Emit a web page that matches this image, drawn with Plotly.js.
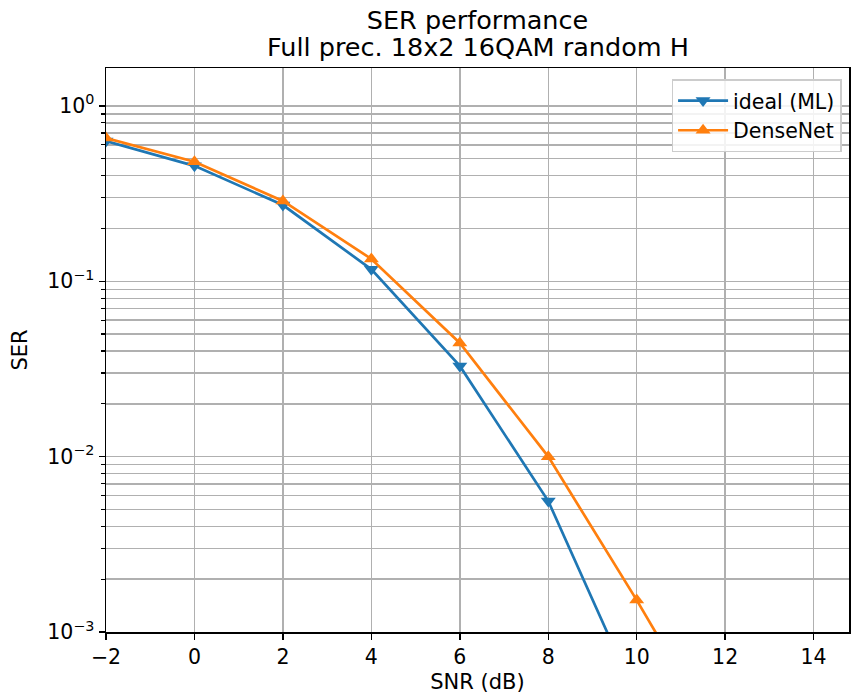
<!DOCTYPE html>
<html>
<head>
<meta charset="utf-8">
<script src="https://cdn.plot.ly/plotly-3.0.1.min.js"></script>
<style>html,body{margin:0;padding:0;background:#fff;}#chart{width:851px;height:695px;}</style>
</head>
<body>
<div id="chart"></div>
<script>
const snr = [-2, 0, 2, 4, 6, 8, 10, 12, 14];
const serIdeal = [0.63, 0.455, 0.272, 0.117, 0.0329, 0.00558, 0.00042, 0.00002, 0.0000005];
const serDense = [0.656, 0.48, 0.287, 0.134, 0.0445, 0.0100, 0.00152, 0.00021, 0.00002];
const xTicks = [-2, 0, 2, 4, 6, 8, 10, 12, 14];
const xTickText = ['\u22122', '0', '2', '4', '6', '8', '10', '12', '14'];
const yTicks = [0.001, 0.01, 0.1, 1];
const yTickText = ['10<sup>\u22123</sup>', '10<sup>\u22122</sup>', '10<sup>\u22121</sup>', '10<sup>0</sup>'];
const titleLine1 = 'SER performance';
const titleLine2 = 'Full prec. 18x2 16QAM random H';

const minorVals = [];
for (let e = -3; e <= 0; e++) for (let m = 2; m <= 9; m++) minorVals.push(m * Math.pow(10, e));

const font = 'DejaVu Sans, sans-serif';
const traces = [
  {x: snr, y: serIdeal, name: 'ideal (ML)', mode: 'lines+markers', type: 'scatter',
   line: {color: '#1f77b4', width: 2.7}, marker: {symbol: 'triangle-down', size: 13, color: '#1f77b4'}, cliponaxis: true},
  {x: snr, y: serDense, name: 'DenseNet', mode: 'lines+markers', type: 'scatter',
   line: {color: '#ff7f0e', width: 2.7}, marker: {symbol: 'triangle-up', size: 13, color: '#ff7f0e'}, cliponaxis: true}
];
const layout = {
  width: 851, height: 695,
  margin: {l: 106, r: 2, t: 68, b: 63},
  paper_bgcolor: '#fff', plot_bgcolor: '#fff',
  font: {family: font, size: 20.5, color: '#000'},
  title: {text: titleLine1, x: 0.5, xref: 'paper', xanchor: 'center',
          y: 1 - 20 / 695, yref: 'container', yanchor: 'middle', font: {family: font, size: 25.5, color: '#000'}},
  annotations: [{text: titleLine2, xref: 'paper', yref: 'paper', x: 0.5, y: 1, xanchor: 'center', yanchor: 'middle',
                 yshift: 21, showarrow: false, font: {family: font, size: 25.5, color: '#000'}}],
  xaxis: {range: [-2, 14.8], tickvals: xTicks, ticktext: xTickText, showgrid: true, gridcolor: '#b0b0b0', gridwidth: 1.5,
          ticks: 'outside', ticklen: 6, tickwidth: 1.5, tickcolor: '#000', showline: true, linecolor: '#000', linewidth: 1.5,
          mirror: true, zeroline: false, title: {text: 'SNR (dB)', font: {family: font, size: 21}, standoff: 6}},
  yaxis: {type: 'log', range: [-3, 0.216], tickvals: yTicks, ticktext: yTickText, showgrid: true, gridcolor: '#b0b0b0', gridwidth: 1.5,
          ticks: 'outside', ticklen: 6, tickwidth: 1.5, tickcolor: '#000', showline: true, linecolor: '#000', linewidth: 1.5,
          mirror: true, zeroline: false,
          minor: {tickmode: 'array', tickvals: minorVals, showgrid: true, gridcolor: '#b0b0b0', gridwidth: 1.5, ticks: 'outside', ticklen: 3.5, tickcolor: '#000', tickwidth: 1.2},
          title: {text: 'SER', font: {family: font, size: 21}, standoff: 14}},
  legend: {x: 0.99, xanchor: 'right', y: 0.98, yanchor: 'top', bgcolor: 'rgba(255,255,255,0.85)', bordercolor: '#cccccc', borderwidth: 1.5,
           font: {family: font, size: 20.5}, itemwidth: 50, tracegroupgap: 4},
  showlegend: true
};
Plotly.newPlot('chart', traces, layout, {displayModeBar: false, staticPlot: true});
</script>
</body>
</html>
